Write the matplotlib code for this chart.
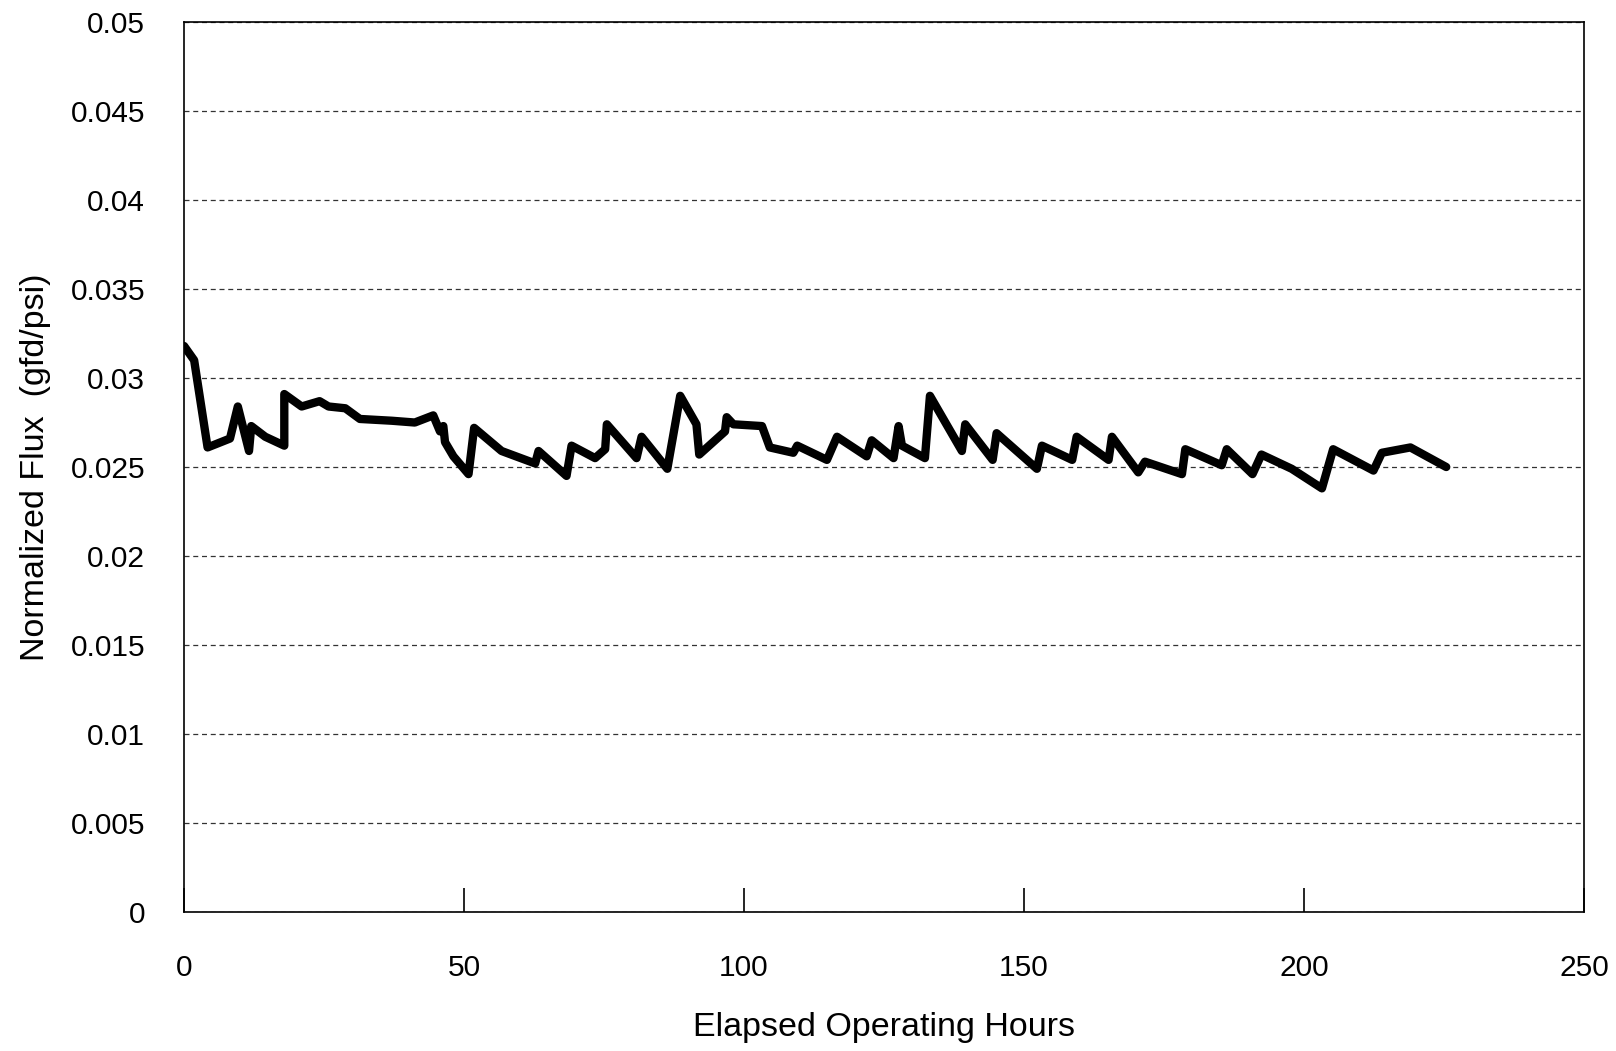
import matplotlib.pyplot as plt
import numpy as np

plt.rcParams['font.family'] = ['Liberation Sans', 'DejaVu Sans']

# --- data ---
hours = [0.0, 1.8, 4.2, 8.2, 9.6, 11.6, 12.0, 14.5, 17.9, 17.9, 21.0, 24.2, 25.8,
         28.8, 31.4, 37.1, 41.2, 44.5, 45.7, 46.3, 46.6, 48.1, 50.8, 51.8, 56.7,
         62.7, 63.3, 68.3, 69.2, 73.4, 75.2, 75.5, 80.8, 81.7, 86.3, 88.6, 91.5,
         92.0, 96.6, 96.9, 98.1, 103.2, 104.6, 108.8, 109.5, 114.8, 116.6, 121.9,
         122.8, 126.7, 127.6, 128.2, 132.3, 133.2, 138.9, 139.5, 144.4, 145.1,
         152.3, 153.2, 158.6, 159.4, 165.1, 165.7, 170.4, 171.6, 178.2, 178.8,
         185.3, 186.2, 190.8, 192.4, 197.8, 203.2, 205.2, 212.4, 213.9, 219.0, 225.4]
flux = [0.0318, 0.0310, 0.0261, 0.0266, 0.0284, 0.0259, 0.0273, 0.0267, 0.0262,
        0.0291, 0.0284, 0.0287, 0.0284, 0.0283, 0.0277, 0.0276, 0.0275, 0.0279,
        0.0270, 0.0273, 0.0264, 0.0256, 0.0246, 0.0272, 0.0259, 0.0252, 0.0259,
        0.0245, 0.0262, 0.0255, 0.0260, 0.0274, 0.0255, 0.0267, 0.0249, 0.0290,
        0.0274, 0.0257, 0.0270, 0.0278, 0.0274, 0.0273, 0.0261, 0.0258, 0.0262,
        0.0254, 0.0267, 0.0256, 0.0265, 0.0255, 0.0273, 0.0262, 0.0255, 0.0290,
        0.0259, 0.0274, 0.0254, 0.0269, 0.0249, 0.0262, 0.0254, 0.0267, 0.0254,
        0.0267, 0.0247, 0.0253, 0.0246, 0.0260, 0.0251, 0.0260, 0.0246, 0.0257,
        0.0249, 0.0238, 0.0260, 0.0248, 0.0258, 0.0261, 0.0250]

x_ticks = np.arange(0, 251, 50)
y_ticks = np.arange(0, 0.0501, 0.005)
y_labels = ['0', '0.005', '0.01', '0.015', '0.02', '0.025', '0.03', '0.035', '0.04', '0.045', '0.05']

fig = plt.figure(figsize=(16.16, 10.51), dpi=100)
ax = fig.add_axes([0.1139, 0.1323, 0.8663, 0.8467])

ax.plot(hours, flux, color='black', linewidth=6, solid_joinstyle='round', solid_capstyle='round')

ax.set_xlim(0, 250)
ax.set_ylim(0, 0.05)
ax.set_xticks(x_ticks)
ax.set_xticklabels([str(v) for v in x_ticks], fontsize=21.5)
ax.set_yticks(y_ticks)
ax.set_yticklabels(y_labels, fontsize=21.5)

# 虚线网格
ax.grid(axis='y', linestyle=(0, (4, 3)), color='#333333', linewidth=0.9)
ax.tick_params(axis='x', direction='in', length=17, width=1.2, pad=30)
ax.tick_params(axis='y', length=0, pad=28)
for s in ax.spines.values():
    s.set_linewidth(1.2)

ax.set_xlabel('Elapsed Operating Hours', fontsize=24.5, labelpad=22)
ax.set_ylabel('Normalized Flux  (gfd/psi)', fontsize=24.5, labelpad=14)

plt.savefig('out.png', dpi=100)
